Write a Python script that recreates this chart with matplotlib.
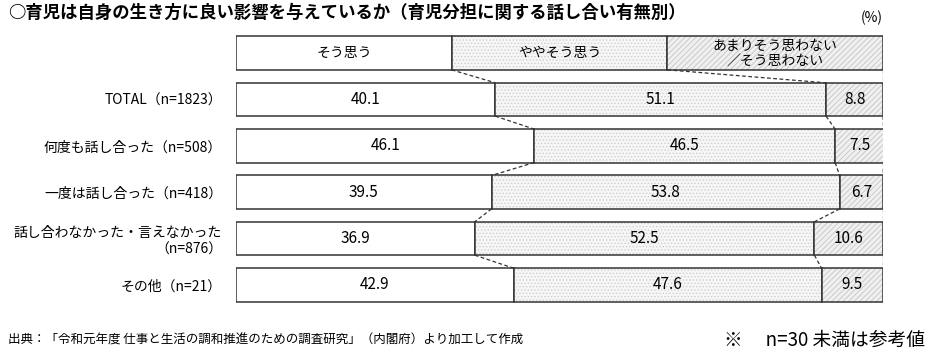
import matplotlib
matplotlib.use('Agg')
import matplotlib.pyplot as plt
import numpy as np

plt.rcParams['font.family'] = ['Noto Sans CJK JP', 'DejaVu Sans']
plt.rcParams['hatch.linewidth'] = 0.6

# data (%)
categories = ['TOTAL（n=1823）', '何度も話し合った（n=508）', '一度は話し合った（n=418）',
              '話し合わなかった・言えなかった\n（n=876）', 'その他（n=21）']
agree = [40.1, 46.1, 39.5, 36.9, 42.9]
somewhat = [51.1, 46.5, 53.8, 52.5, 47.6]
disagree = [8.8, 7.5, 6.7, 10.6, 9.5]
header_labels = ['そう思う', 'ややそう思う', 'あまりそう思わない\n／そう思わない']

title = '○育児は自身の生き方に良い影響を与えているか（育児分担に関する話し合い有無別）'
source = '出典：「令和元年度 仕事と生活の調和推進のための調査研究」（内閣府）より加工して作成'
note = '※　 n=30 未満は参考値'

styles = [dict(facecolor='white', hatch=None, hc=None),
          dict(facecolor='#f6f6f6', hatch='.....', hc='#cfcfcf'),
          dict(facecolor='#f0f0f0', hatch='//////', hc='#c4c4c4')]
edge = '#333333'
h = 0.72

fig = plt.figure(figsize=(9.31, 3.57), dpi=100)
ax = fig.add_axes([236/931, 1 - 308/357, 647/931, 278/357])

series = np.array([agree, somewhat, disagree])
rows = [np.full(3, 100/3)] + [series[:, i] for i in range(len(categories))]

bounds = []
for r, vals in enumerate(rows):
    left = np.concatenate([[0], np.cumsum(vals)[:-1]])
    for k in range(3):
        st = styles[k]
        if st['hatch']:
            ax.barh(r, vals[k], left=left[k], height=h, color=st['facecolor'],
                    edgecolor=st['hc'], hatch=st['hatch'], linewidth=0)
        else:
            ax.barh(r, vals[k], left=left[k], height=h, color=st['facecolor'], linewidth=0)
        ax.barh(r, vals[k], left=left[k], height=h, fill=False,
                edgecolor=edge, linewidth=1.1)
        if r == 0:
            ax.text(left[k] + vals[k]/2, r, header_labels[k], ha='center', va='center',
                    fontsize=10, linespacing=1.1)
        else:
            ax.text(left[k] + vals[k]/2, r, f'{vals[k]:.1f}', ha='center', va='center',
                    fontsize=11)
    bounds.append(np.cumsum(vals)[:3])

# dashed connectors between consecutive bars
for r in range(len(rows) - 1):
    for a, b in zip(bounds[r], bounds[r + 1]):
        ax.plot([a, b], [r + h/2, r + 1 - h/2], color=edge, lw=0.9,
                linestyle=(0, (3, 2)), solid_capstyle='butt')

ax.set_xlim(0, 100)
ax.set_ylim(len(rows) - 0.5, -0.5)
ax.set_yticks(range(1, len(rows)), categories, fontsize=10, ha='right')
ax.tick_params(axis='y', length=0, pad=10)
ax.set_xticks([])
for s in ax.spines.values():
    s.set_visible(False)

fig.text(8/931, 1 - 13/357, title, fontsize=12.5, fontweight='bold', va='center', ha='left')
fig.text(872/931, 1 - 18/357, '(%)', fontsize=10, va='center', ha='center')
fig.text(8/931, 1 - 340/357, source, fontsize=9, va='center', ha='left')
fig.text(925/931, 1 - 340/357, note, fontsize=13.5, va='center', ha='right')

fig.savefig('out.png', dpi=100)
